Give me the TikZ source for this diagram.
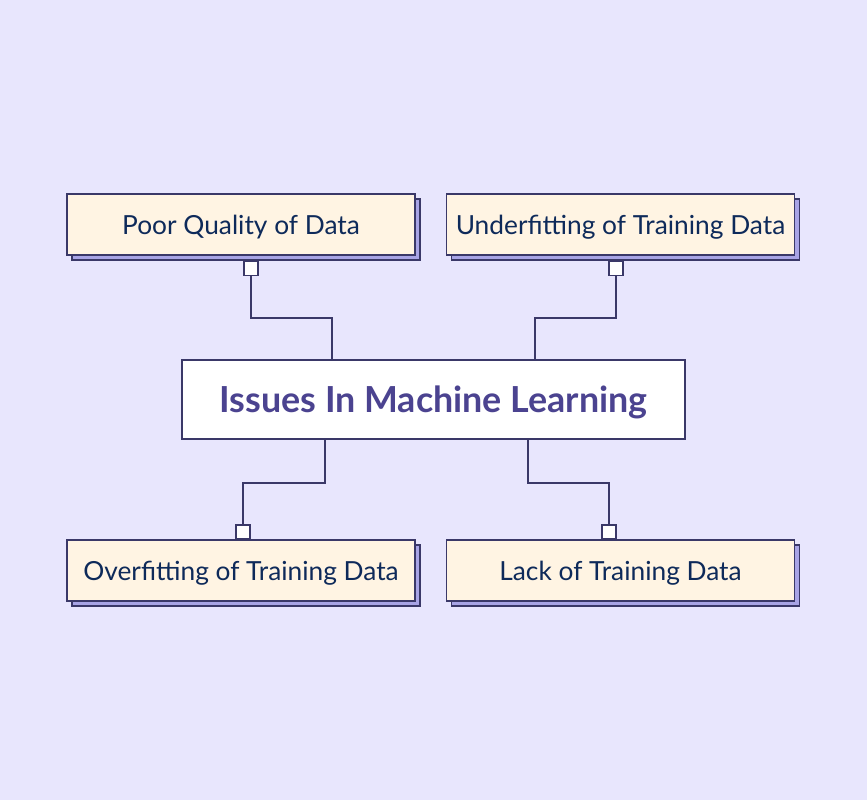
\documentclass[tikz,border=0pt]{standalone}
\usepackage{fontspec}
\setmainfont{Lato}
\usetikzlibrary{shadows, positioning, calc}

\definecolor{bgc}{HTML}{E8E6FD}
\definecolor{creamc}{HTML}{FFF4E3}
\definecolor{linec}{HTML}{3A3868}
\definecolor{shadowc}{HTML}{A8A4E5}
\definecolor{textc}{HTML}{0E2A5A}
\definecolor{titlec}{HTML}{4B4390}

\tikzset{
    issuebox/.style={draw=linec, line width=0.9pt, fill=creamc, minimum width=8.7cm, minimum height=1.525cm,
        text=textc, font=\fontsize{18.7}{22}\selectfont, text depth=-0.02cm,
        general shadow={fill=shadowc, draw=linec, line width=0.9pt, shadow xshift=0.125cm, shadow yshift=-0.125cm}},
    mainbox/.style={draw=linec, line width=0.9pt, fill=white, minimum width=12.575cm, minimum height=1.975cm,
        text=titlec, font=\fontsize{25.5}{30}\selectfont\bfseries, text depth=0cm},
    pin/.style={draw=linec, line width=0.9pt, fill=white, minimum size=0.35cm, inner sep=0pt},
    link/.style={draw=linec, line width=0.9pt}
}

\begin{document}
\begin{tikzpicture}[x=0.025cm, y=-0.025cm]
    % Background
    \fill[bgc] (0,0) rectangle (867,800);
    \useasboundingbox (0,0) rectangle (867,800);

    % Central node
    \node[mainbox] (issues) at (433.5,399.5) {Issues In Machine Learning};

    % Issue boxes
    \node[issuebox] (poor) at (241,224.5) {Poor Quality of Data};
    \node[issuebox] (under) at (620.5,224.5) {Underfitting of Training Data};
    \node[issuebox] (over) at (241,570.5) {Overfitting of Training Data};
    \node[issuebox] (lack) at (620.5,570.5) {Lack of Training Data};

    % Small connector squares
    \node[pin] (pinA) at (251,268.5) {};
    \node[pin] (pinB) at (616,268.5) {};
    \node[pin] (pinC) at (243,532) {};
    \node[pin] (pinD) at (609,532) {};

    % Elbows and attach points
    \coordinate (elbowA) at (332,318);
    \coordinate (elbowB) at (535,318);
    \coordinate (elbowC) at (325,483);
    \coordinate (elbowD) at (528,483);

    % Connectors
    \draw[link] (pinA.south) |- (elbowA) -- (elbowA |- issues.north);
    \draw[link] (pinB.south) |- (elbowB) -- (elbowB |- issues.north);
    \draw[link] (elbowC |- issues.south) -- (elbowC) -| (pinC.north);
    \draw[link] (elbowD |- issues.south) -- (elbowD) -| (pinD.north);
\end{tikzpicture}
\end{document}
